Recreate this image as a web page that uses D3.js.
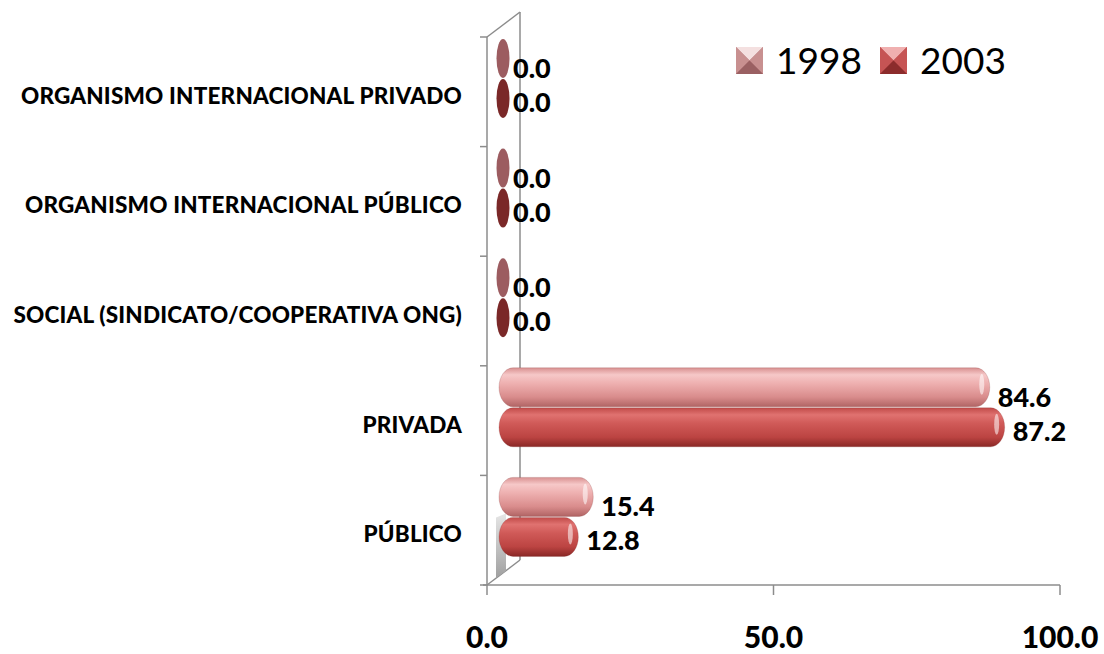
<!DOCTYPE html>
<html>
<head>
<meta charset="utf-8">
<script src="https://cdn.jsdelivr.net/npm/d3@7"></script>
<style>
  html, body { margin: 0; padding: 0; background: #ffffff; }
  svg { display: block; }
  text { font-family: Lato, "Open Sans", "DejaVu Sans", sans-serif; }
</style>
</head>
<body>
<svg id="chart" width="1104" height="654"></svg>
<script>
// Sector categories, listed top to bottom
const categories = [
  "ORGANISMO INTERNACIONAL PRIVADO",
  "ORGANISMO INTERNACIONAL PÚBLICO",
  "SOCIAL (SINDICATO/COOPERATIVA ONG)",
  "PRIVADA",
  "PÚBLICO"
];
const seriesNames = ["1998", "2003"];
const values1998 = [0.0, 0.0, 0.0, 84.6, 15.4];
const values2003 = [0.0, 0.0, 0.0, 87.2, 12.8];
const xTicks = [0, 50, 100];

const svg = d3.select("#chart");
const defs = svg.append("defs");

// 3D frame geometry
const depthX = 33, depthY = -25;
const x = d3.scaleLinear().domain([0, 100]).range([487, 1060]);
const y = d3.scaleBand().domain(categories).range([37, 585]).padding(0);
const barH = 39;

// cylinder-like gradients for each series
function cylGrad(id, stops) {
  const g = defs.append("linearGradient").attr("id", id)
    .attr("x1", 0).attr("y1", 0).attr("x2", 0).attr("y2", 1);
  stops.forEach(s => g.append("stop").attr("offset", s[0]).attr("stop-color", s[1]));
}
cylGrad("g1998", [[0, "#d89090"], [0.18, "#f6c8c8"], [0.4, "#eeb0b0"], [0.75, "#d98c8c"], [1, "#b06464"]]);
cylGrad("g2003", [[0, "#c04a48"], [0.18, "#e07270"], [0.4, "#d05a58"], [0.75, "#bc4442"], [1, "#8a2826"]]);
cylGrad("gFloor", [[0, "#e6e6e6"], [1, "#a0a0a0"]]);

const series = [
  { name: seriesNames[0], values: values1998, fill: "url(#g1998)", flat: "#9c5c60", labelDy: 9 },
  { name: seriesNames[1], values: values2003, fill: "url(#g2003)", flat: "#7a2828", labelDy: 3 }
];

// wall and floor outline
const frame = svg.append("g").attr("stroke", "#8c8c8c").attr("stroke-width", 1.5).attr("fill", "none");
const x0 = x(0), yTop = y.range()[0], yBot = y.range()[1];
frame.append("line").attr("x1", x0).attr("y1", yTop).attr("x2", x0).attr("y2", yBot);
frame.append("line").attr("x1", x0 + depthX).attr("y1", yTop + depthY).attr("x2", x0 + depthX).attr("y2", yBot + depthY);
frame.append("line").attr("x1", x0).attr("y1", yTop).attr("x2", x0 + depthX).attr("y2", yTop + depthY);
frame.append("line").attr("x1", x0).attr("y1", yBot).attr("x2", x0 + depthX).attr("y2", yBot + depthY);

// category boundary ticks on the wall
const bounds = categories.map(c => y(c)).concat([yBot]);
frame.selectAll(".ytick").data(bounds).enter().append("line")
  .attr("x1", x0 - 7).attr("x2", x0).attr("y1", d => d).attr("y2", d => d);

// shaded floor sliver under the lowest bar
const last = categories[categories.length - 1];
svg.append("path")
  .attr("d", `M${x0 + 9},${y(last) + 42} L${x0 + 19},${y(last) + 38} L${x0 + 19},${yBot - 14} L${x0 + 9},${yBot - 7} Z`)
  .attr("fill", "url(#gFloor)");

// x axis
const axisY = yBot;
const ax = svg.append("g").attr("stroke", "#8c8c8c").attr("stroke-width", 1.5);
ax.append("line").attr("x1", x0 - 4).attr("x2", x(100)).attr("y1", axisY).attr("y2", axisY);
ax.selectAll(".xt").data(xTicks).enter().append("line")
  .attr("x1", d => x(d)).attr("x2", d => x(d)).attr("y1", axisY).attr("y2", axisY + 10);
svg.selectAll(".xlab").data(xTicks).enter().append("text")
  .attr("x", d => x(d)).attr("y", 648)
  .attr("text-anchor", "middle").attr("font-size", 30).attr("font-weight", 900).attr("fill", "#000")
  .text(d => d3.format(".1f")(d));

// category labels
svg.selectAll(".clab").data(categories).enter().append("text")
  .attr("x", 462).attr("y", d => y(d) + y.bandwidth() / 2 + 12)
  .attr("text-anchor", "end").attr("font-size", 22.5).attr("font-weight", 900)
  .attr("letter-spacing", 0.2).attr("fill", "#000")
  .text(d => d);

// bars
const dx = 16;
series.forEach((s, si) => {
  const g = svg.append("g");
  categories.forEach((c, ci) => {
    const v = s.values[ci];
    const top = y(c) + 2 + si * 40;
    const cy = top + barH / 2;
    if (v === 0) {
      g.append("ellipse").attr("cx", x(0) + dx).attr("cy", cy).attr("rx", 6.5).attr("ry", barH / 2)
        .attr("fill", s.flat);
    } else {
      const left = x(0) + dx - 4, right = x(v) + dx + 2;
      g.append("rect").attr("x", left).attr("y", top).attr("width", right - left).attr("height", barH)
        .attr("rx", 14).attr("ry", barH / 2).attr("fill", s.fill)
        .attr("stroke", "rgba(120,40,40,0.25)").attr("stroke-width", 0.8);
      g.append("ellipse").attr("cx", right - 8).attr("cy", cy - 3).attr("rx", 2.5).attr("ry", barH / 2 - 9)
        .attr("fill", "#ffffff").attr("opacity", 0.55);
    }
    g.append("text").attr("x", x(v) + 26).attr("y", cy + s.labelDy)
      .attr("dominant-baseline", "central")
      .attr("font-size", 27).attr("font-weight", 900).attr("fill", "#000")
      .text(d3.format(".1f")(v));
  });
});

// legend with pyramid-shaded swatches
const legendItems = [
  { name: seriesNames[0], x: 736, base: "#b87a7c", light: "#f4e0e0", dark: "#9a6062", side: "#c89090" },
  { name: seriesNames[1], x: 880, base: "#b84446", light: "#f0b0b0", dark: "#8c2c2c", side: "#c65454" }
];
legendItems.forEach(it => {
  const sx = it.x, sy = 47, sz = 27, c = [sx + sz / 2, sy + sz / 2];
  const lg = svg.append("g");
  lg.append("rect").attr("x", sx).attr("y", sy).attr("width", sz).attr("height", sz).attr("fill", it.base);
  lg.append("path").attr("d", `M${sx},${sy} L${sx + sz},${sy} L${c[0]},${c[1]} Z`).attr("fill", it.light);
  lg.append("path").attr("d", `M${sx},${sy} L${c[0]},${c[1]} L${sx},${sy + sz} Z`).attr("fill", it.side);
  lg.append("path").attr("d", `M${sx + sz},${sy} L${c[0]},${c[1]} L${sx + sz},${sy + sz} Z`).attr("fill", it.side);
  lg.append("path").attr("d", `M${sx},${sy + sz} L${c[0]},${c[1]} L${sx + sz},${sy + sz} Z`).attr("fill", it.dark);
  lg.append("text").attr("x", sx + sz + 13).attr("y", sy + sz).attr("font-size", 37).attr("fill", "#000")
    .text(it.name);
});
</script>
</body>
</html>
